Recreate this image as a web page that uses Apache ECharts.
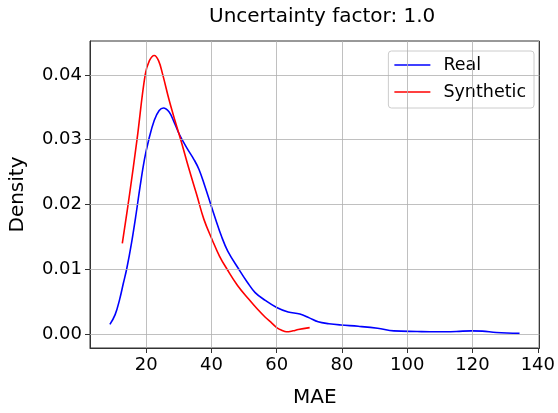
<!DOCTYPE html>
<html>
<head>
<meta charset="utf-8">
<script src="https://cdn.jsdelivr.net/npm/echarts@6/dist/echarts.min.js"></script>
<style>html,body{margin:0;padding:0;background:#fff;}#c{width:558px;height:413px;}</style>
</head>
<body>
<div id="c"></div>
<script>
const titleText = 'Uncertainty factor: 1.0';
const xName = 'MAE';
const yName = 'Density';
const xTicks = [20, 40, 60, 80, 100, 120, 140];
const yTicks = [0, 0.01, 0.02, 0.03, 0.04];

const realX = [8.9, 10.5, 11.9, 13.0, 14.1, 15.5, 17.0, 18.0, 19.5, 20.8, 22.5, 24.0, 25.3, 27.0, 28.5, 30.2, 32.5, 34.7, 36.2, 38.0, 39.8, 41.3, 43.0, 45.0, 48.4, 51.0, 53.4, 56.5, 60.0, 63.5, 67.1, 70.0, 72.7, 76.0, 79.7, 85.0, 90.9, 95.9, 103.0, 109.0, 115.0, 119.7, 123.0, 127.3, 134.4];
const realY = [0.0015, 0.0030, 0.0054, 0.0078, 0.0102, 0.0140, 0.0188, 0.0223, 0.0270, 0.0300, 0.0330, 0.0345, 0.0349, 0.0343, 0.0328, 0.0308, 0.0287, 0.0269, 0.0254, 0.0228, 0.0200, 0.0177, 0.0152, 0.0128, 0.0100, 0.0080, 0.0064, 0.0052, 0.0041, 0.0034, 0.0031, 0.0025, 0.0019, 0.0016, 0.0014, 0.0012, 0.0009, 0.0005, 0.0004, 0.00035, 0.0004, 0.0005, 0.00045, 0.00025, 0.0001];

const synthX = [12.7, 14.9, 17.2, 19.7, 21.0, 22.5, 23.8, 25.1, 27.0, 28.8, 30.6, 33.0, 35.5, 37.7, 40.2, 42.5, 44.8, 48.0, 51.4, 54.0, 56.5, 58.5, 60.0, 61.5, 63.0, 65.0, 66.6, 70.1];
const synthY = [0.0140, 0.0215, 0.0300, 0.0400, 0.0422, 0.0430, 0.0422, 0.0400, 0.0362, 0.0330, 0.0300, 0.0257, 0.0215, 0.0177, 0.0146, 0.0120, 0.0100, 0.0075, 0.0054, 0.0039, 0.0026, 0.0017, 0.0010, 0.0006, 0.00035, 0.0005, 0.0007, 0.0010];

const FONT = 'DejaVu Sans';
const chart = echarts.init(document.getElementById('c'), null, {renderer: 'canvas'});
const pair = (xs, ys) => xs.map((x, i) => [x, ys[i]]);
const gridStyle = {color: '#b0b0b0', width: 0.8, type: 'solid'};

chart.setOption({
  animation: false,
  backgroundColor: '#fff',
  title: {
    text: titleText, left: 204, top: 2,
    textStyle: {fontFamily: FONT, fontSize: 20, fontWeight: 'normal', color: '#000'}
  },
  grid: {left: 90, right: 15, top: 41, bottom: 65, show: true, borderColor: '#333', borderWidth: 1, backgroundColor: 'transparent'},
  legend: {
    orient: 'vertical', right: 24, top: 51,
    padding: [4, 8, 6, 6], itemGap: 7,
    backgroundColor: 'rgba(255,255,255,0.85)', borderColor: '#cccccc', borderWidth: 1, borderRadius: 3,
    icon: 'rect', itemWidth: 36, itemHeight: 1.6,
    textStyle: {fontFamily: FONT, fontSize: 17.5, color: '#000', lineHeight: 20, padding: [0, 0, 0, 8]},
    data: ['Real', 'Synthetic']
  },
  xAxis: {
    type: 'value', min: 2.8, max: 140.5,
    name: xName, nameLocation: 'middle', nameGap: 40,
    nameTextStyle: {fontFamily: FONT, fontSize: 20, color: '#000'},
    axisLine: {show: true, onZero: false, lineStyle: {color: '#333', width: 1}},
    axisTick: {show: true, inside: false, length: 5, customValues: xTicks, lineStyle: {color: '#333'}},
    axisLabel: {show: true, margin: 8, customValues: xTicks, fontFamily: FONT, fontSize: 18, color: '#000'},
    splitLine: {show: false}
  },
  yAxis: {
    type: 'value', min: -0.00215, max: 0.04523,
    name: yName, nameLocation: 'middle', nameGap: 62, nameRotate: 90,
    nameTextStyle: {fontFamily: FONT, fontSize: 20, color: '#000'},
    axisLine: {show: true, onZero: false, lineStyle: {color: '#333', width: 1}},
    axisTick: {show: true, inside: false, length: 5, customValues: yTicks, lineStyle: {color: '#333'}},
    axisLabel: {show: true, margin: 8, customValues: yTicks, fontFamily: FONT, fontSize: 18, color: '#000',
      formatter: v => v.toFixed(2)},
    splitLine: {show: false}
  },
  series: [
    {
      name: 'grid', type: 'line', data: [], z: 1, silent: true,
      markLine: {
        silent: true, animation: false, symbol: ['none', 'none'], label: {show: false},
        lineStyle: gridStyle,
        data: xTicks.map(v => ({xAxis: v})).concat(yTicks.map(v => ({yAxis: v})))
      }
    },
    {
      name: 'Real', type: 'line', data: pair(realX, realY), smooth: 0.4, showSymbol: false, symbol: 'none', z: 3,
      itemStyle: {color: '#0000ff'}, lineStyle: {color: '#0000ff', width: 1.6}
    },
    {
      name: 'Synthetic', type: 'line', data: pair(synthX, synthY), smooth: 0.4, showSymbol: false, symbol: 'none', z: 3,
      itemStyle: {color: '#ff0000'}, lineStyle: {color: '#ff0000', width: 1.6}
    }
  ]
});
</script>
</body>
</html>
